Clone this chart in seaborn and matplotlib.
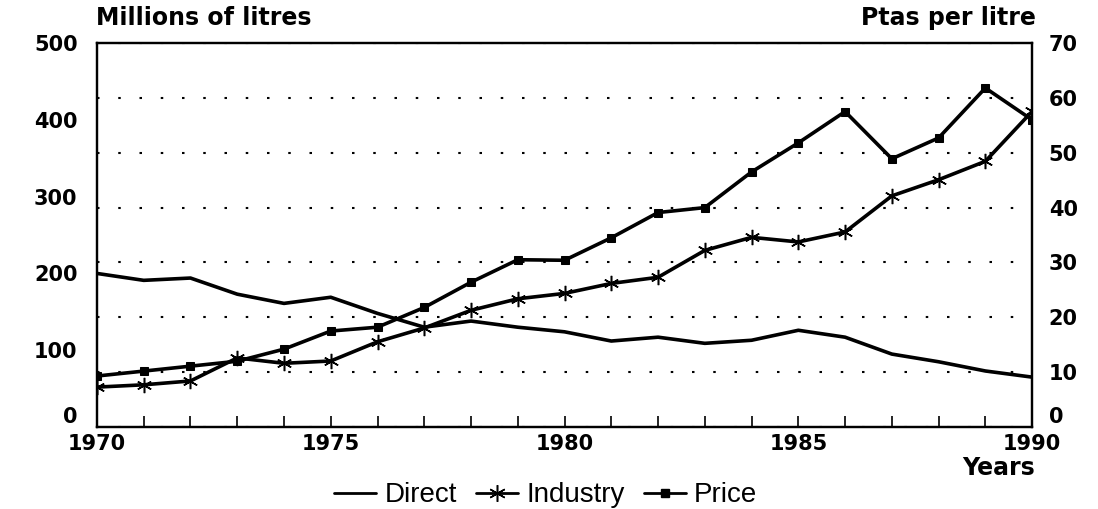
import numpy as np
import pandas as pd
import matplotlib
matplotlib.use("Agg")
import matplotlib.pyplot as plt
from matplotlib.lines import Line2D
import seaborn as sns

years = list(range(1970, 1991))
direct = [200, 191, 194, 173, 161, 169, 148, 130, 138, 130, 124, 112, 117, 109, 113, 126, 117, 95, 85, 73, 65]
industry = [52, 55, 60, 90, 83, 86, 111, 129, 152, 167, 174, 187, 195, 230, 247, 241, 254, 301, 322, 346, 411]
price = [9.3, 10.2, 11.1, 12.0, 14.2, 17.5, 18.2, 21.8, 26.4, 30.5, 30.4, 34.5, 39.1, 40.0, 46.5, 51.8, 57.5, 48.9, 52.7, 61.8, 56.0]

left_ticks = [0, 100, 200, 300, 400, 500]
right_ticks = [0, 10, 20, 30, 40, 50, 60, 70]
year_ticks = [1970, 1975, 1980, 1985, 1990]

df = pd.DataFrame({"year": years, "direct": direct, "industry": industry, "price": price})

sns.set_style("white")
plt.rcParams["font.family"] = ["DejaVu Sans"]
plt.rcParams["text.color"] = "black"
plt.rcParams["xtick.color"] = "black"
plt.rcParams["ytick.color"] = "black"

fig = plt.figure(figsize=(10.98, 5.09), dpi=100)
ax = fig.add_axes([0.0883, 0.161, 0.8517, 0.7545])
ax2 = ax.twinx()

ink = "black"
sns.lineplot(data=df, x="year", y="direct", ax=ax, color=ink, lw=2.6)
sns.lineplot(data=df, x="year", y="industry", ax=ax, color=ink, lw=2.6,
             marker=(6, 2, 0), markersize=11, markeredgewidth=1.1, markeredgecolor=ink)
sns.lineplot(data=df, x="year", y="price", ax=ax2, color=ink, lw=2.6,
             marker="s", markersize=6, markeredgecolor=ink)

ax.set_xlim(1970, 1990)
ax.set_ylim(0, 500)
ax2.set_ylim(0, 70)

tick_font = dict(fontsize=15, fontweight="semibold")
ax.set_yticks(left_ticks)
ax.set_yticklabels([str(v) for v in left_ticks], **tick_font)
ax2.set_yticks(right_ticks)
ax2.set_yticklabels([str(v) for v in right_ticks], **tick_font)
ax.set_xticks(year_ticks)
ax.set_xticklabels([str(v) for v in year_ticks], **tick_font)
ax.set_xticks(years, minor=True)

ax.tick_params(axis="y", length=0, pad=14)
ax2.tick_params(axis="y", length=0, pad=12)
ax.tick_params(axis="x", which="both", direction="in", length=8, width=1.2, pad=5, bottom=True)
ax2.tick_params(axis="x", bottom=False)
# nudge the shared corner "0" labels up so they clear the year labels
ax.get_yticklabels()[0].set_va("bottom")
ax2.get_yticklabels()[0].set_va("bottom")

ax.grid(False)
ax2.grid(False)
ax2.yaxis.grid(True, color=ink, linestyle=(0, (1.2, 9)), lw=1.5)
ax2.set_axisbelow(True)

for a in (ax, ax2):
    for s in a.spines.values():
        s.set_color(ink)
        s.set_linewidth(1.6)
        s.set_visible(True)

ax.set_xlabel("")
ax.set_ylabel("")
ax2.set_ylabel("")

fig.text(0.087, 0.965, "Millions of litres", fontsize=17, fontweight="semibold", ha="left", va="center")
fig.text(0.943, 0.965, "Ptas per litre", fontsize=17, fontweight="semibold", ha="right", va="center")
fig.text(0.943, 0.08, "Years", fontsize=17, fontweight="semibold", ha="right", va="center")

handles = [
    Line2D([], [], color=ink, lw=2),
    Line2D([], [], color=ink, lw=2, marker=(6, 2, 0), markersize=12, markeredgewidth=1.1),
    Line2D([], [], color=ink, lw=2, marker="s", markersize=6),
]
fig.legend(handles, ["Direct", "Industry", "Price"], loc="center", bbox_to_anchor=(0.497, 0.027),
           ncol=3, frameon=False, handlelength=1.5, handletextpad=0.3, columnspacing=0.7,
           prop={"family": "Liberation Sans", "size": 20})

fig.savefig("out.png", dpi=100)
